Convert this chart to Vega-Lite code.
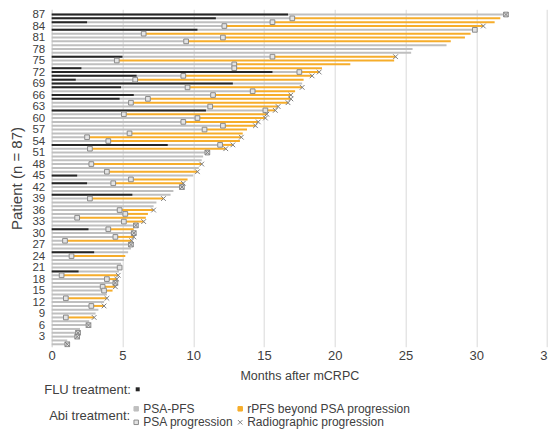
{
  "$schema": "https://vega.github.io/schema/vega-lite/v6.json",
  "width": 495.3,
  "height": 337.4,
  "autosize": {"type": "none"},
  "padding": {"left": 51.7, "top": 9.3, "right": 1, "bottom": 82.3},
  "config": {
    "font": "Liberation Sans",
    "view": {"stroke": null},
    "axis": {"labelColor": "#404040", "titleColor": "#404040", "titleFontWeight": "normal", "ticks": false},
    "legend": {"labelColor": "#404040", "titleColor": "#404040", "titleFontWeight": "normal"}
  },
  "datasets": {
    "patients": [
      {"p":87,"flu":16.7,"psa":32.1,"rad":null},
      {"p":86,"flu":11.6,"psa":17.0,"rad":31.7},
      {"p":85,"flu":2.5,"psa":15.6,"rad":31.3},
      {"p":84,"flu":null,"psa":12.2,"rad":30.5},
      {"p":83,"flu":10.3,"psa":29.9,"rad":null},
      {"p":82,"flu":null,"psa":6.5,"rad":29.6},
      {"p":81,"flu":null,"psa":12.1,"rad":29.2},
      {"p":80,"flu":null,"psa":9.5,"rad":28.2},
      {"p":79,"flu":null,"psa":27.9,"rad":null},
      {"p":78,"flu":null,"psa":25.5,"rad":null},
      {"p":77,"flu":null,"psa":25.4,"rad":null},
      {"p":76,"flu":5.0,"psa":15.6,"rad":24.3},
      {"p":75,"flu":null,"psa":4.6,"rad":24.2},
      {"p":74,"flu":null,"psa":12.9,"rad":21.1},
      {"p":73,"flu":2.1,"psa":12.9,"rad":19.1},
      {"p":72,"flu":15.6,"psa":17.5,"rad":18.9},
      {"p":71,"flu":6.0,"psa":9.3,"rad":18.4},
      {"p":70,"flu":1.7,"psa":5.9,"rad":17.8},
      {"p":69,"flu":12.8,"psa":17.7,"rad":null},
      {"p":68,"flu":4.9,"psa":9.6,"rad":17.7},
      {"p":67,"flu":null,"psa":14.2,"rad":17.2},
      {"p":66,"flu":5.8,"psa":11.4,"rad":16.9},
      {"p":65,"flu":4.8,"psa":6.8,"rad":16.9},
      {"p":64,"flu":null,"psa":5.6,"rad":16.7},
      {"p":63,"flu":null,"psa":11.2,"rad":16.0},
      {"p":62,"flu":10.9,"psa":15.1,"rad":15.8},
      {"p":61,"flu":null,"psa":5.1,"rad":15.2},
      {"p":60,"flu":null,"psa":10.3,"rad":15.1},
      {"p":59,"flu":null,"psa":9.3,"rad":14.6},
      {"p":58,"flu":null,"psa":12.1,"rad":14.4},
      {"p":57,"flu":null,"psa":10.8,"rad":13.8},
      {"p":56,"flu":null,"psa":5.5,"rad":13.5},
      {"p":55,"flu":null,"psa":2.5,"rad":13.4},
      {"p":54,"flu":null,"psa":4.0,"rad":13.3},
      {"p":53,"flu":8.2,"psa":11.9,"rad":12.8},
      {"p":52,"flu":null,"psa":2.7,"rad":12.3},
      {"p":51,"flu":null,"psa":11.0,"rad":null},
      {"p":50,"flu":null,"psa":10.7,"rad":null},
      {"p":49,"flu":null,"psa":10.6,"rad":null},
      {"p":48,"flu":null,"psa":2.8,"rad":10.6},
      {"p":47,"flu":null,"psa":10.4,"rad":null},
      {"p":46,"flu":null,"psa":3.9,"rad":10.3},
      {"p":45,"flu":1.8,"psa":10.0,"rad":null},
      {"p":44,"flu":null,"psa":5.6,"rad":9.6},
      {"p":43,"flu":2.5,"psa":4.35,"rad":9.3},
      {"p":42,"flu":null,"psa":9.2,"rad":null},
      {"p":41,"flu":null,"psa":8.6,"rad":null},
      {"p":40,"flu":5.7,"psa":8.4,"rad":null},
      {"p":39,"flu":null,"psa":2.7,"rad":7.9},
      {"p":38,"flu":null,"psa":7.4,"rad":null},
      {"p":37,"flu":null,"psa":7.2,"rad":null},
      {"p":36,"flu":null,"psa":4.8,"rad":7.2},
      {"p":35,"flu":null,"psa":5.2,"rad":6.8},
      {"p":34,"flu":null,"psa":1.8,"rad":6.65},
      {"p":33,"flu":null,"psa":5.1,"rad":6.5},
      {"p":32,"flu":null,"psa":5.95,"rad":null},
      {"p":31,"flu":2.6,"psa":4.0,"rad":5.8},
      {"p":30,"flu":null,"psa":5.8,"rad":null},
      {"p":29,"flu":null,"psa":4.5,"rad":5.8},
      {"p":28,"flu":null,"psa":0.94,"rad":5.65},
      {"p":27,"flu":null,"psa":5.6,"rad":null},
      {"p":26,"flu":null,"psa":5.6,"rad":null},
      {"p":25,"flu":3.0,"psa":5.4,"rad":null},
      {"p":24,"flu":null,"psa":1.4,"rad":5.2},
      {"p":23,"flu":null,"psa":5.1,"rad":null},
      {"p":22,"flu":null,"psa":4.9,"rad":null},
      {"p":21,"flu":null,"psa":4.8,"rad":null},
      {"p":20,"flu":1.9,"psa":4.75,"rad":null},
      {"p":19,"flu":null,"psa":0.7,"rad":4.7},
      {"p":18,"flu":null,"psa":3.9,"rad":4.6},
      {"p":17,"flu":null,"psa":4.5,"rad":null},
      {"p":16,"flu":null,"psa":3.6,"rad":4.5},
      {"p":15,"flu":null,"psa":3.7,"rad":4.3},
      {"p":14,"flu":null,"psa":3.9,"rad":null},
      {"p":13,"flu":null,"psa":1.0,"rad":3.9},
      {"p":12,"flu":null,"psa":3.7,"rad":null},
      {"p":11,"flu":null,"psa":2.8,"rad":3.7},
      {"p":10,"flu":null,"psa":3.3,"rad":null},
      {"p":9,"flu":null,"psa":3.1,"rad":null},
      {"p":8,"flu":null,"psa":1.0,"rad":3.0},
      {"p":7,"flu":null,"psa":2.65,"rad":null},
      {"p":6,"flu":null,"psa":2.6,"rad":null},
      {"p":5,"flu":null,"psa":2.0,"rad":null},
      {"p":4,"flu":null,"psa":1.86,"rad":null},
      {"p":3,"flu":null,"psa":1.8,"rad":null},
      {"p":2,"flu":null,"psa":1.1,"rad":null},
      {"p":1,"flu":null,"psa":1.1,"rad":null}
    ],
    "markers": [
      {"p":87,"t":32.1,"m":"PSA progression"},{"p":86,"t":17.0,"m":"PSA progression"},{"p":85,"t":15.6,"m":"PSA progression"},
      {"p":84,"t":12.2,"m":"PSA progression"},{"p":83,"t":29.9,"m":"PSA progression"},{"p":82,"t":6.5,"m":"PSA progression"},
      {"p":81,"t":12.1,"m":"PSA progression"},{"p":80,"t":9.5,"m":"PSA progression"},{"p":76,"t":15.6,"m":"PSA progression"},
      {"p":75,"t":4.6,"m":"PSA progression"},{"p":74,"t":12.9,"m":"PSA progression"},{"p":73,"t":12.9,"m":"PSA progression"},
      {"p":72,"t":17.5,"m":"PSA progression"},{"p":71,"t":9.3,"m":"PSA progression"},{"p":70,"t":5.9,"m":"PSA progression"},
      {"p":68,"t":9.6,"m":"PSA progression"},{"p":67,"t":14.2,"m":"PSA progression"},{"p":66,"t":11.4,"m":"PSA progression"},
      {"p":65,"t":6.8,"m":"PSA progression"},{"p":64,"t":5.6,"m":"PSA progression"},{"p":63,"t":11.2,"m":"PSA progression"},
      {"p":62,"t":15.1,"m":"PSA progression"},{"p":61,"t":5.1,"m":"PSA progression"},{"p":60,"t":10.3,"m":"PSA progression"},
      {"p":59,"t":9.3,"m":"PSA progression"},{"p":58,"t":12.1,"m":"PSA progression"},{"p":57,"t":10.8,"m":"PSA progression"},
      {"p":56,"t":5.5,"m":"PSA progression"},{"p":55,"t":2.5,"m":"PSA progression"},{"p":54,"t":4.0,"m":"PSA progression"},
      {"p":53,"t":11.9,"m":"PSA progression"},{"p":52,"t":2.7,"m":"PSA progression"},{"p":51,"t":11.0,"m":"PSA progression"},
      {"p":48,"t":2.8,"m":"PSA progression"},{"p":46,"t":3.9,"m":"PSA progression"},{"p":44,"t":5.6,"m":"PSA progression"},
      {"p":43,"t":4.35,"m":"PSA progression"},{"p":42,"t":9.2,"m":"PSA progression"},{"p":39,"t":2.7,"m":"PSA progression"},
      {"p":36,"t":4.8,"m":"PSA progression"},{"p":35,"t":5.2,"m":"PSA progression"},{"p":34,"t":1.8,"m":"PSA progression"},
      {"p":33,"t":5.1,"m":"PSA progression"},{"p":32,"t":5.95,"m":"PSA progression"},{"p":31,"t":4.0,"m":"PSA progression"},
      {"p":30,"t":5.8,"m":"PSA progression"},{"p":29,"t":4.5,"m":"PSA progression"},{"p":28,"t":0.94,"m":"PSA progression"},
      {"p":27,"t":5.6,"m":"PSA progression"},{"p":24,"t":1.4,"m":"PSA progression"},{"p":21,"t":4.8,"m":"PSA progression"},
      {"p":19,"t":0.7,"m":"PSA progression"},{"p":18,"t":3.9,"m":"PSA progression"},{"p":17,"t":4.5,"m":"PSA progression"},
      {"p":16,"t":3.6,"m":"PSA progression"},{"p":15,"t":3.7,"m":"PSA progression"},{"p":13,"t":1.0,"m":"PSA progression"},
      {"p":11,"t":2.8,"m":"PSA progression"},{"p":8,"t":1.0,"m":"PSA progression"},{"p":6,"t":2.6,"m":"PSA progression"},
      {"p":4,"t":1.86,"m":"PSA progression"},{"p":3,"t":1.8,"m":"PSA progression"},{"p":1,"t":1.1,"m":"PSA progression"},
      {"p":87,"t":32.1,"m":"Radiographic progression"},{"p":84,"t":30.5,"m":"Radiographic progression"},{"p":76,"t":24.3,"m":"Radiographic progression"},
      {"p":72,"t":18.9,"m":"Radiographic progression"},{"p":71,"t":18.4,"m":"Radiographic progression"},{"p":68,"t":17.7,"m":"Radiographic progression"},
      {"p":66,"t":16.9,"m":"Radiographic progression"},{"p":65,"t":16.9,"m":"Radiographic progression"},{"p":64,"t":16.7,"m":"Radiographic progression"},
      {"p":63,"t":16.0,"m":"Radiographic progression"},{"p":62,"t":15.8,"m":"Radiographic progression"},{"p":61,"t":15.2,"m":"Radiographic progression"},
      {"p":60,"t":15.1,"m":"Radiographic progression"},{"p":59,"t":14.6,"m":"Radiographic progression"},{"p":58,"t":14.4,"m":"Radiographic progression"},
      {"p":55,"t":13.4,"m":"Radiographic progression"},{"p":53,"t":12.8,"m":"Radiographic progression"},{"p":52,"t":12.3,"m":"Radiographic progression"},
      {"p":51,"t":11.0,"m":"Radiographic progression"},{"p":48,"t":10.6,"m":"Radiographic progression"},{"p":46,"t":10.3,"m":"Radiographic progression"},
      {"p":43,"t":9.3,"m":"Radiographic progression"},{"p":42,"t":9.2,"m":"Radiographic progression"},{"p":39,"t":7.9,"m":"Radiographic progression"},
      {"p":36,"t":7.2,"m":"Radiographic progression"},{"p":33,"t":6.5,"m":"Radiographic progression"},{"p":32,"t":5.95,"m":"Radiographic progression"},
      {"p":30,"t":5.8,"m":"Radiographic progression"},{"p":29,"t":5.8,"m":"Radiographic progression"},{"p":28,"t":5.65,"m":"Radiographic progression"},
      {"p":27,"t":5.6,"m":"Radiographic progression"},{"p":19,"t":4.7,"m":"Radiographic progression"},{"p":18,"t":4.6,"m":"Radiographic progression"},
      {"p":17,"t":4.5,"m":"Radiographic progression"},{"p":16,"t":4.5,"m":"Radiographic progression"},{"p":13,"t":3.9,"m":"Radiographic progression"},
      {"p":11,"t":3.7,"m":"Radiographic progression"},{"p":8,"t":3.0,"m":"Radiographic progression"},{"p":6,"t":2.6,"m":"Radiographic progression"},
      {"p":4,"t":1.86,"m":"Radiographic progression"},{"p":3,"t":1.8,"m":"Radiographic progression"},{"p":1,"t":1.1,"m":"Radiographic progression"}
    ]
  },
  "encoding": {
    "y": {
      "field": "p", "type": "quantitative",
      "scale": {"domain": [0.37, 88.36], "nice": false, "zero": false},
      "axis": {
        "values": [3,6,9,12,15,18,21,24,27,30,33,36,39,42,45,48,51,54,57,60,63,66,69,72,75,78,81,84,87],
        "grid": false, "domain": true, "domainColor": "#d9d9d9", "domainWidth": 1,
        "labelOverlap": false, "labelFontSize": 11.5, "labelPadding": 7, "labelBaseline": "middle",
        "title": "Patient (n = 87)", "titleFontSize": 15, "titlePadding": 7
      }
    }
  },
  "layer": [
    {
      "data": {"name": "patients"},
      "mark": {"type": "rule", "color": "#bfbfbf", "strokeWidth": 2},
      "encoding": {
        "x": {
          "field": "psa", "type": "quantitative",
          "scale": {"domain": [0, 35], "nice": false},
          "axis": {
            "values": [0,5,10,15,20,25,30,35], "grid": true, "gridColor": "#d9d9d9", "gridWidth": 1,
            "domain": false, "labelFontSize": 13, "labelPadding": 3, "labelFlush": false, "labelOverlap": false,
            "title": "Months after mCRPC", "titleFontSize": 12.5, "titlePadding": 7
          }
        },
        "x2": {"datum": 0}
      }
    },
    {
      "data": {"name": "patients"},
      "transform": [{"filter": "datum.rad != null"}],
      "mark": {"type": "rule", "color": "#f6ad2b", "strokeWidth": 2},
      "encoding": {
        "x": {"field": "psa", "type": "quantitative"},
        "x2": {"field": "rad"}
      }
    },
    {
      "data": {"name": "patients"},
      "transform": [{"filter": "datum.flu != null"}],
      "mark": {"type": "rule", "strokeWidth": 2},
      "encoding": {
        "x": {"field": "flu", "type": "quantitative"},
        "x2": {"datum": 0},
        "color": {
          "datum": "FLU treatment",
          "scale": {"range": ["#262626"]},
          "legend": {
            "title": "FLU treatment:", "orient": "none", "legendX": -7.5, "legendY": 373.5,
            "titleOrient": "left", "titleFontSize": 13, "titlePadding": 0,
            "symbolType": "square", "symbolSize": 16, "labelExpr": "''", "labelFontSize": 13,
            "encode": {"symbols": {"update": {"fill": {"value": "#262626"}, "stroke": {"value": "#262626"}, "strokeWidth": {"value": 0}}}}
          }
        }
      }
    },
    {
      "data": {"name": "markers"},
      "mark": {"type": "point", "filled": true, "size": 22, "strokeWidth": 1, "opacity": 1},
      "encoding": {
        "x": {"field": "t", "type": "quantitative"},
        "fill": {
          "field": "m", "type": "nominal",
          "scale": {"domain": ["PSA-PFS", "rPFS beyond PSA progression", "PSA progression", "Radiographic progression"],
                    "range": ["#bfbfbf", "#f6ad2b", "#e3e3e3", "transparent"]},
          "legend": {
            "title": "Abi treatment:", "orient": "none", "legendX": -2.5, "legendY": 393.5,
            "titleOrient": "left", "titleFontSize": 13, "titlePadding": 0,
            "columns": 2, "direction": "horizontal", "columnPadding": -2, "rowPadding": 1.5,
            "symbolSize": 20, "symbolStrokeWidth": 1, "labelFontSize": 12, "labelOffset": 1, "labelLimit": 400
          }
        },
        "stroke": {
          "field": "m", "type": "nominal",
          "scale": {"domain": ["PSA-PFS", "rPFS beyond PSA progression", "PSA progression", "Radiographic progression"],
                    "range": ["#bfbfbf", "#f6ad2b", "#8c8c8c", "#7f7f7f"]}
        },
        "shape": {
          "field": "m", "type": "nominal",
          "scale": {"domain": ["PSA-PFS", "rPFS beyond PSA progression", "PSA progression", "Radiographic progression"],
                    "range": ["square", "square", "square", "M-1,-1L1,1M-1,1L1,-1"]}
        }
      }
    }
  ]
}
